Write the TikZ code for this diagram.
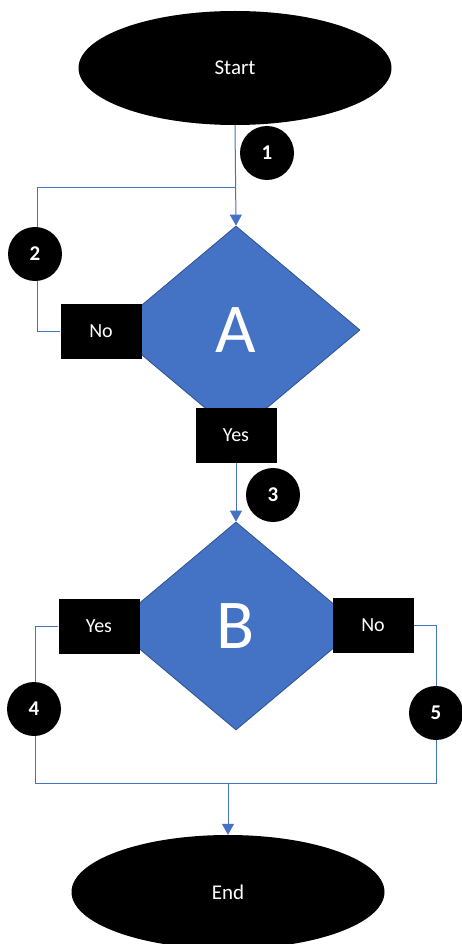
\documentclass[tikz,border=0pt]{standalone}
\usepackage{fontspec}
\setmainfont{Carlito}
\usetikzlibrary{shapes.geometric,arrows.meta}
\definecolor{dblue}{HTML}{4472C4}
\definecolor{dborder}{HTML}{2F528F}
\begin{document}
\begin{tikzpicture}[x=1pt,y=-1pt,
  term/.style={ellipse,fill=black,text=white,minimum width=313pt,minimum height=114pt,inner sep=0pt,font=\fontsize{21}{24}\selectfont},
  dec/.style={diamond,fill=dblue,draw=dborder,line width=0.8pt,text=white,minimum width=248pt,minimum height=208pt,inner sep=0pt,font=\fontsize{70}{72}\selectfont},
  lbl/.style={rectangle,fill=black,text=white,minimum width=81pt,minimum height=55pt,inner sep=0pt,font=\fontsize{20}{24}\selectfont},
  num/.style={circle,fill=black,text=white,minimum size=54pt,inner sep=0pt,font=\fontsize{21}{24}\selectfont\bfseries},
  conn/.style={draw=dblue,line width=1pt},
  arr/.style={conn,-{Triangle[width=12pt,length=11pt]}}]
\useasboundingbox (0,0) rectangle (462,944);
% terminals
\node[term] (start) at (235,68) {Start};
\node[term] (end) at (228,892) {End};
% decisions
\node[dec] (A) at (236,330) {A};
\node[dec] (B) at (236,626) {B};
% connector coordinates
\coordinate (j1) at (236,187);
\coordinate (l1) at (37,187);
\coordinate (bl) at (35,783);
\coordinate (br) at (436,783);
\coordinate (bm) at (228,783);
% connectors
\draw[arr] (start.south) -- (A.north);
\draw[conn] (j1) -- (l1);
\node[lbl] (noA) at (101,331) {No};
\node[lbl] (yesA) at (236,435) {Yes};
\node[lbl] (yesB) at (99,626) {Yes};
\node[lbl] (noB) at (373,625) {No};
\draw[conn] (noA.west) -| (l1);
\draw[arr] (yesA.south) -- (B.north);
\draw[conn] (yesB.west) -| (bl) -- (br) |- (noB.east);
\draw[arr] (bm) -- (end.north);
% number badges
\node[num] (n1) at (267,153) {1};
\node[num] (n2) at (35,254) {2};
\node[num] (n3) at (273,495) {3};
\node[num] (n4) at (34,709) {4};
\node[num] (n5) at (436,713) {5};
\end{tikzpicture}
\end{document}
